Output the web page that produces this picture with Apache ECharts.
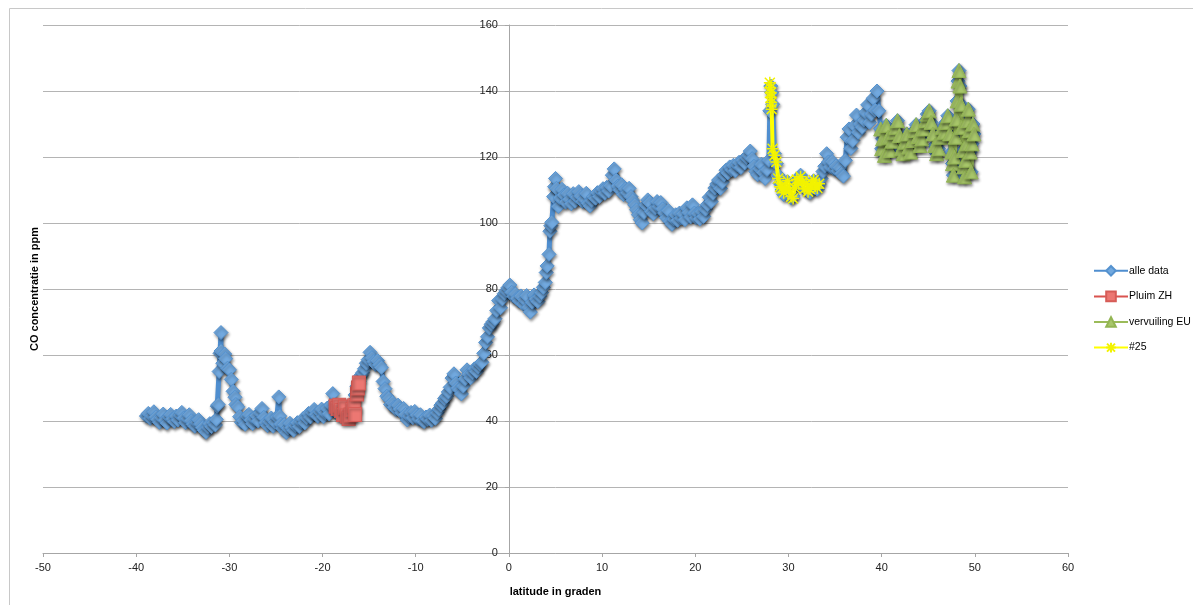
<!DOCTYPE html>
<html>
<head>
<meta charset="utf-8">
<script src="https://cdn.jsdelivr.net/npm/echarts@6/dist/echarts.min.js"></script>
<style>
  html, body { margin: 0; padding: 0; background: #fff; }
  #chart { width: 1193px; height: 605px; }
</style>
</head>
<body>
<div id="chart"></div>
<script>
// CO concentration (ppm) along the transect, by latitude (degrees)
const alleData = [
  [-38.9,41.5],[-38.7,42.3],[-38.5,40.8],[-38.3,41.6],[-38.1,42.8],[-37.9,41.2],[-37.7,40.5],[-37.5,39.6],[-37.3,41.0],[-37.1,42.1],
  [-36.9,40.2],[-36.7,39.4],[-36.5,41.3],[-36.3,42.0],[-36.1,40.6],[-35.9,39.8],[-35.7,41.5],[-35.5,40.3],[-35.3,41.8],[-35.1,42.6],
  [-34.9,40.9],[-34.7,39.5],[-34.5,40.7],[-34.3,41.9],[-34.1,40.1],[-33.9,39.0],[-33.7,38.4],[-33.5,39.6],[-33.3,40.4],[-33.1,39.1],
  [-32.9,38.0],[-32.7,37.2],[-32.5,36.6],[-32.3,38.1],[-32.1,39.2],[-31.9,38.3],[-31.7,39.6],[-31.5,38.8],[-31.4,40.5],[-31.3,44.5],
  [-31.2,45.0],[-31.1,55.0],[-31.0,60.5],[-30.9,66.8],[-30.9,61.2],[-30.7,57.5],[-30.5,60.3],[-30.4,58.9],[-30.2,56.0],[-30.0,55.5],
  [-29.8,52.6],[-29.6,49.0],[-29.4,47.2],[-29.3,45.0],[-29.1,44.3],[-28.9,41.3],[-28.7,39.6],[-28.5,40.2],[-28.3,39.0],[-28.1,41.5],
  [-27.9,42.0],[-27.7,40.3],[-27.5,39.2],[-27.3,40.6],[-27.1,41.7],[-26.9,40.0],[-26.7,42.5],[-26.5,43.8],[-26.3,41.1],[-26.1,39.5],
  [-25.9,38.6],[-25.7,39.8],[-25.5,40.9],[-25.3,38.4],[-25.1,39.7],[-24.9,41.2],[-24.7,47.3],[-24.6,41.5],[-24.5,39.1],[-24.3,37.8],
  [-24.1,38.9],[-23.9,36.5],[-23.7,37.9],[-23.5,39.3],[-23.3,38.0],[-23.1,37.2],[-22.9,38.6],[-22.7,39.5],[-22.5,38.3],[-22.3,39.8],
  [-22.1,40.7],[-21.9,39.4],[-21.7,41.0],[-21.5,42.3],[-21.3,41.2],[-21.1,42.6],[-20.9,43.5],[-20.7,42.0],[-20.5,41.4],[-20.3,42.8],
  [-20.1,43.6],[-19.9,41.3],[-19.7,42.5],[-19.5,43.9],[-19.3,42.2],[-19.1,44.8],[-18.9,48.3],[-18.7,44.5],[-18.5,43.2],[-18.3,42.0],
  [-18.1,43.5],[-17.9,42.3],[-17.7,44.0],[-17.5,43.1],[-17.3,41.6],[-17.1,42.8],[-16.9,44.5],[-16.7,45.8],[-16.5,47.9],[-16.3,50.5],
  [-16.1,52.0],[-15.9,53.8],[-15.7,54.6],[-15.5,55.8],[-15.3,57.5],[-15.1,58.6],[-14.9,60.8],[-14.7,59.2],[-14.5,58.0],[-14.3,57.1],
  [-14.1,58.3],[-13.9,57.0],[-13.7,56.2],[-13.5,52.0],[-13.3,49.8],[-13.1,47.5],[-12.9,46.8],[-12.7,45.0],[-12.5,45.6],[-12.3,44.2],
  [-12.1,43.5],[-11.9,44.8],[-11.7,43.6],[-11.5,42.5],[-11.3,43.8],[-11.1,42.0],[-10.9,40.3],[-10.7,41.5],[-10.5,42.6],[-10.3,41.0],
  [-10.1,42.9],[-9.9,41.8],[-9.7,40.6],[-9.5,41.9],[-9.3,40.1],[-9.1,39.8],[-8.9,41.2],[-8.7,40.5],[-8.5,41.8],[-8.3,40.2],
  [-8.1,41.5],[-7.9,40.8],[-7.7,42.5],[-7.5,43.6],[-7.3,44.8],[-7.1,45.5],[-6.9,46.8],[-6.7,47.5],[-6.5,48.8],[-6.3,50.2],
  [-6.1,53.0],[-5.9,54.3],[-5.7,51.5],[-5.5,50.0],[-5.3,49.4],[-5.1,48.2],[-4.9,50.6],[-4.7,52.8],[-4.5,55.5],[-4.3,54.2],
  [-4.1,53.1],[-3.9,54.6],[-3.7,55.8],[-3.5,55.0],[-3.3,56.4],[-3.1,57.3],[-2.9,57.8],[-2.7,60.5],[-2.5,63.8],[-2.3,65.5],
  [-2.1,68.2],[-1.9,69.3],[-1.7,70.1],[-1.5,71.0],[-1.3,73.5],[-1.1,76.5],[-0.9,74.3],[-0.7,77.0],[-0.5,78.6],[-0.3,79.5],
  [-0.1,80.4],[0.1,81.2],[0.3,79.0],[0.5,77.8],[0.7,78.5],[0.9,77.2],[1.1,76.4],[1.3,77.9],[1.5,75.5],[1.7,76.8],
  [1.9,78.0],[2.1,74.5],[2.3,73.0],[2.5,76.0],[2.7,78.2],[2.9,77.0],[3.1,76.2],[3.3,77.8],[3.5,78.9],[3.7,80.5],
  [3.9,82.0],[4.0,85.0],[4.1,87.0],[4.3,90.5],[4.4,97.5],[4.5,99.2],[4.6,100.2],[4.8,108.0],[4.9,111.0],[5.0,113.5],
  [5.1,110.5],[5.3,105.0],[5.5,107.6],[5.7,110.2],[5.9,108.5],[6.1,106.3],[6.3,109.0],[6.5,107.2],[6.7,105.8],[6.9,108.9],
  [7.1,106.6],[7.3,107.9],[7.5,109.5],[7.7,108.2],[7.9,106.5],[8.1,107.3],[8.3,109.0],[8.5,106.0],[8.7,105.2],[8.9,106.8],
  [9.1,108.0],[9.3,107.5],[9.5,109.2],[9.7,108.0],[9.9,109.6],[10.1,110.4],[10.3,109.0],[10.5,110.8],[10.7,109.7],[10.9,111.4],
  [11.1,114.5],[11.3,116.4],[11.5,113.0],[11.7,111.2],[11.9,110.0],[12.1,111.6],[12.3,108.6],[12.5,110.3],[12.7,109.2],[12.9,110.5],
  [13.1,108.0],[13.3,106.8],[13.5,105.5],[13.7,104.0],[13.9,102.5],[14.1,101.0],[14.3,100.0],[14.5,103.2],[14.7,105.5],[14.9,107.0],
  [15.1,106.2],[15.3,103.5],[15.5,102.8],[15.7,104.6],[15.9,106.5],[16.1,105.0],[16.3,106.2],[16.5,104.3],[16.7,103.0],[16.9,101.6],
  [17.1,103.8],[17.3,100.5],[17.5,99.6],[17.7,101.2],[17.9,102.5],[18.1,100.8],[18.3,103.0],[18.5,101.5],[18.7,102.8],[18.9,101.0],
  [19.1,104.6],[19.3,103.2],[19.5,101.8],[19.7,105.5],[19.9,103.0],[20.1,101.6],[20.3,102.9],[20.5,101.2],[20.7,103.5],[20.9,102.0],
  [21.1,104.2],[21.3,105.6],[21.5,107.8],[21.7,106.5],[21.9,109.0],[22.1,110.6],[22.3,111.8],[22.5,113.0],[22.7,110.5],[22.9,112.4],
  [23.1,114.6],[23.3,116.0],[23.5,115.2],[23.7,117.0],[23.9,116.1],[24.1,117.5],[24.3,115.8],[24.5,117.6],[24.7,118.4],[24.9,116.8],
  [25.1,119.0],[25.3,118.2],[25.5,119.8],[25.7,120.6],[25.9,121.8],[26.1,119.5],[26.3,117.2],[26.5,115.6],[26.7,114.6],[26.9,116.5],
  [27.1,117.8],[27.3,115.3],[27.5,113.5],[27.7,116.2],[27.9,119.0],[28.0,134.0],[28.1,141.5],[28.2,139.5],[28.3,136.0],[28.5,121.0],
  [28.7,118.0],[28.9,114.5],[29.1,112.0],[29.3,110.0],[29.5,108.6],[29.7,110.8],[29.9,112.5],[30.1,109.5],[30.3,107.6],[30.5,108.2],
  [30.7,111.5],[30.9,113.0],[31.1,112.2],[31.3,114.5],[31.5,112.8],[31.7,110.5],[31.9,111.6],[32.1,109.8],[32.3,109.2],[32.5,110.6],
  [32.7,112.8],[32.9,111.5],[33.1,110.2],[33.3,111.8],[33.5,113.5],[33.7,115.6],[33.9,117.2],[34.1,121.0],[34.3,118.5],[34.5,117.0],
  [34.7,118.6],[34.9,116.4],[35.1,117.3],[35.3,115.8],[35.5,116.8],[35.7,115.0],[35.9,114.2],[36.1,119.0],[36.3,126.0],[36.5,128.5],
  [36.7,122.6],[36.9,125.0],[37.1,129.5],[37.3,132.7],[37.5,127.5],[37.7,130.0],[37.9,129.0],[38.1,131.2],[38.3,133.5],[38.5,135.8],
  [38.7,130.5],[38.9,133.0],[39.1,137.8],[39.3,134.2],[39.5,140.0],[39.7,134.0],[39.9,128.7]
];

const pluimZH = [
  [-18.6,44.5],[-18.4,43.8],[-18.2,44.8],[-18.0,43.2],[-17.8,42.0],[-17.6,44.2],[-17.4,41.5],[-17.2,40.8],
  [-17.0,41.8],[-16.8,43.5],[-16.6,44.6],[-16.5,42.0],[-16.3,48.2],[-16.2,50.0],[-16.1,51.5]
];

const vervuilingEU = [
  [39.9,128.5],[40.0,122.5],[40.1,125.5],[40.3,120.5],[40.5,129.6],[40.7,126.0],[40.9,122.0],[41.1,124.8],[41.3,127.5],[41.5,129.0],
  [41.7,131.0],[41.9,126.5],[42.1,122.5],[42.3,121.0],[42.5,124.5],[42.7,127.0],[42.9,123.0],[43.1,121.5],[43.3,125.0],[43.5,128.0],
  [43.7,129.8],[43.9,126.2],[44.1,123.5],[44.3,125.5],[44.5,128.5],[44.7,131.0],[44.9,133.0],[45.1,134.0],[45.3,130.5],[45.5,127.0],
  [45.7,123.5],[45.9,121.0],[46.1,122.5],[46.3,126.0],[46.5,129.0],[46.7,127.5],[46.9,130.5],[47.1,132.5],[47.3,127.0],[47.5,121.5],
  [47.6,118.0],[47.7,114.5],[47.8,120.0],[47.9,126.0],[48.0,131.5],[48.1,137.0],[48.2,143.0],[48.3,146.2],[48.4,141.5],[48.5,136.0],
  [48.6,129.0],[48.7,122.0],[48.8,117.0],[48.9,114.0],[49.0,119.0],[49.1,124.0],[49.2,131.0],[49.3,134.5],[49.4,128.0],[49.5,121.5],
  [49.6,115.5],[49.7,124.0],[49.8,130.0],[49.9,127.0]
];

const track25 = [
  [28.0,142.5],[28.05,141.0],[28.1,139.5],[28.1,138.0],[28.15,136.5],[28.2,134.5],[28.3,122.5],[28.5,120.5],[28.7,118.5],[28.9,113.5],
  [29.1,111.0],[29.3,110.5],[29.5,109.2],[29.7,110.5],[29.9,112.8],[30.1,110.0],[30.3,108.0],[30.5,107.4],[30.7,110.6],[30.9,113.2],
  [31.1,112.0],[31.3,114.0],[31.5,112.5],[31.7,110.3],[31.9,111.8],[32.1,109.5],[32.3,110.2],[32.5,112.0],[32.7,113.0],[32.9,111.2],
  [33.1,110.6],[33.3,111.9]
];

const seriesNames = ['alle data', 'Pluim ZH', 'vervuiling EU', '#25'];
const xTitle = 'latitude in graden';
const yTitle = 'CO concentratie in ppm';

const FONT = 'Liberation Sans, Arial, sans-serif';
const markShadow = { shadowColor: 'rgba(0,0,0,0.45)', shadowBlur: 3, shadowOffsetX: 1, shadowOffsetY: 2 };
const starPath = 'path://M0,0L10,10M10,0L0,10M5,-1L5,11M-1,5L11,5';

const GRID_LEFT = 43, GRID_RIGHT = 125;
const CHART_W = 1193;

const chart = echarts.init(document.getElementById('chart'), null, { renderer: 'canvas' });

// the value axis sits on latitude 0: shift it right from the grid's left edge
const plotW = CHART_W - GRID_LEFT - GRID_RIGHT;
const xMin = -50, xMax = 60;
const yAxisShift = -plotW * (0 - xMin) / (xMax - xMin);

chart.setOption({
  animation: false,
  backgroundColor: '#ffffff',
  textStyle: { fontFamily: FONT },
  grid: { left: GRID_LEFT, right: GRID_RIGHT, top: 25, bottom: 52 },
  legend: {
    orient: 'vertical',
    left: 1093,
    top: 265,
    padding: 0,
    itemWidth: 34,
    itemHeight: 12,
    itemGap: 14,
    textStyle: { fontSize: 10.5, color: '#000', fontFamily: FONT, padding: [0, 0, 0, -4] },
    data: seriesNames
  },
  xAxis: {
    type: 'value',
    min: xMin, max: xMax, interval: 10,
    name: xTitle,
    nameLocation: 'middle',
    nameGap: 33,
    nameTextStyle: { fontSize: 11, fontWeight: 'bold', color: '#000' },
    axisLine: { lineStyle: { color: '#a6a6a6', width: 1 } },
    axisTick: { show: true, length: 4, lineStyle: { color: '#a6a6a6' } },
    axisLabel: { fontSize: 11, color: '#222', margin: 9 },
    splitLine: { show: false }
  },
  yAxis: {
    type: 'value',
    min: 0, max: 160, interval: 20,
    offset: yAxisShift,
    axisLine: { show: true, onZero: false, lineStyle: { color: '#a6a6a6', width: 1 } },
    axisTick: { show: true, length: 4, lineStyle: { color: '#a6a6a6' } },
    axisLabel: { fontSize: 11, color: '#222', margin: 11 },
    splitLine: { show: true, lineStyle: { color: '#b4b4b4', width: 1 } }
  },
  graphic: [
    {
      type: 'rect', silent: true, z: -10,
      shape: { x: 9.5, y: 8.5, width: 1200, height: 620 },
      style: { fill: 'none', stroke: '#c8c8c8', lineWidth: 1 }
    },
    {
      type: 'text', silent: true,
      x: 35, y: 289, rotation: Math.PI / 2,
      style: {
        text: yTitle, fontSize: 11, fontWeight: 'bold', fill: '#000',
        fontFamily: FONT, align: 'center', verticalAlign: 'middle'
      }
    }
  ],
  series: [
    {
      name: seriesNames[0], type: 'line', data: alleData.concat(vervuilingEU),
      symbol: 'diamond', symbolSize: 14,
      lineStyle: Object.assign({ color: '#4f8ecf', width: 5 }, markShadow),
      itemStyle: Object.assign({ color: '#72a9df', borderColor: '#5592cf', borderWidth: 1 }, markShadow),
      z: 2
    },
    {
      name: seriesNames[1], type: 'line', data: pluimZH,
      symbol: 'rect', symbolSize: [13, 14],
      lineStyle: Object.assign({ color: '#d9534f', width: 5 }, markShadow),
      itemStyle: Object.assign({ color: '#ec7772', borderColor: '#d65c57', borderWidth: 1 }, markShadow),
      z: 3
    },
    {
      name: seriesNames[2], type: 'line', data: vervuilingEU,
      symbol: 'triangle', symbolSize: 14,
      lineStyle: Object.assign({ color: '#9bbb59', width: 5 }, markShadow),
      itemStyle: Object.assign({ color: '#a8c76a', borderColor: '#93b553', borderWidth: 1 }, markShadow),
      z: 4
    },
    {
      name: seriesNames[3], type: 'line', data: track25,
      symbol: starPath, symbolSize: 12,
      lineStyle: { color: '#ffff00', width: 4 },
      itemStyle: { color: '#ffff00', borderColor: '#f2f200', borderWidth: 1.5 },
      z: 5
    }
  ]
});
</script>
</body>
</html>
